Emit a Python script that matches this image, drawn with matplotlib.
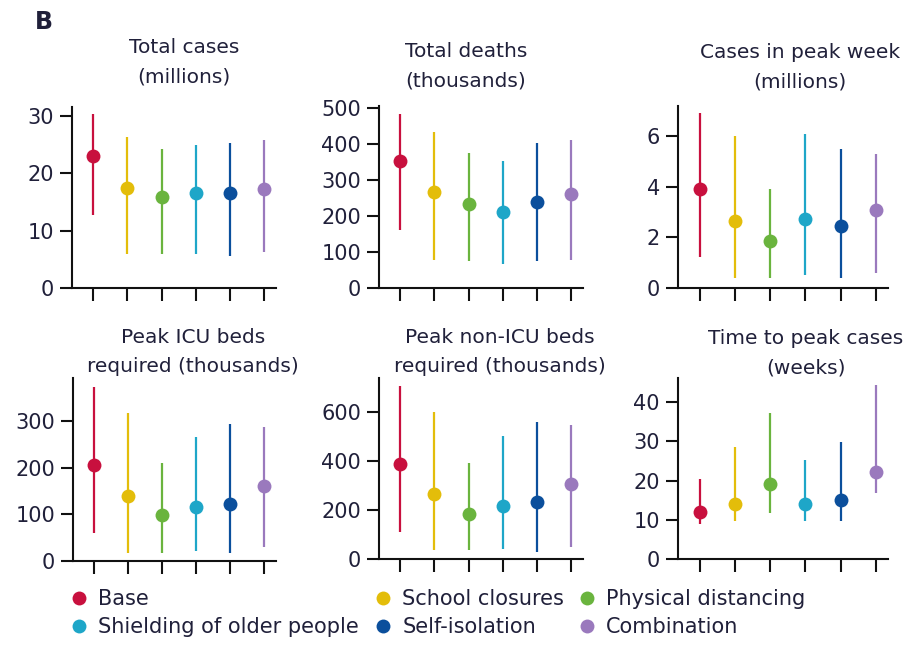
import matplotlib
matplotlib.use("Agg")
import matplotlib.pyplot as plt
from matplotlib.lines import Line2D

# scenarios, in plotting order
scenarios = ["Base", "School closures", "Physical distancing",
             "Shielding of older people", "Self-isolation", "Combination"]
colors = ["#c8103e", "#e3bd0a", "#6ab43e", "#1ea6c8", "#0b4f9c", "#9a79bd"]

# median, low, high
total_cases_mid = [23.0, 17.5, 15.9, 16.5, 16.5, 17.2]
total_cases_lo = [12.7, 5.9, 5.9, 5.9, 5.6, 6.3]
total_cases_hi = [30.4, 26.4, 24.2, 25.0, 25.3, 25.8]

total_deaths_mid = [353, 267, 234, 210, 240, 262]
total_deaths_lo = [162, 79, 75, 66, 75, 79]
total_deaths_hi = [482, 433, 375, 352, 401, 412]

peak_week_mid = [3.92, 2.67, 1.87, 2.73, 2.46, 3.10]
peak_week_lo = [1.21, 0.41, 0.41, 0.51, 0.41, 0.60]
peak_week_hi = [6.92, 6.02, 3.92, 6.08, 5.51, 5.31]

icu_mid = [205, 140, 98, 116, 123, 161]
icu_lo = [60, 18, 18, 21, 18, 29]
icu_hi = [372, 317, 209, 266, 294, 288]

nonicu_mid = [390, 266, 185, 219, 233, 308]
nonicu_lo = [109, 38, 38, 42, 29, 49]
nonicu_hi = [709, 600, 393, 505, 561, 550]

peak_time_mid = [12.1, 14.0, 19.2, 14.0, 15.0, 22.1]
peak_time_lo = [8.9, 9.6, 11.7, 9.6, 9.6, 16.9]
peak_time_hi = [20.3, 28.5, 37.3, 25.2, 29.8, 44.3]

TXT = "#20203a"
W, H = 910, 651

plt.rcParams['font.family'] = ['DejaVu Sans']

fig = plt.figure(figsize=(W / 100, H / 100), dpi=100)


def px_axes(left, right, top, bottom):
    return fig.add_axes((left / W, 1 - bottom / H, (right - left) / W, (bottom - top) / H))


panels = [
    # title, mid, lo, hi, ylim top, yticks, rect (l, r, t, b), title centre x, title y
    ("Total cases\n(millions)", total_cases_mid, total_cases_lo, total_cases_hi,
     31.6, [0, 10, 20, 30], (72, 276, 107, 288), 184, 62),
    ("Total deaths\n(thousands)", total_deaths_mid, total_deaths_lo, total_deaths_hi,
     505, [0, 100, 200, 300, 400, 500], (379, 583, 106, 288), 466, 66),
    ("Cases in peak week\n(millions)", peak_week_mid, peak_week_lo, peak_week_hi,
     7.2, [0, 2, 4, 6], (678, 888, 106, 288), 800, 67),
    ("Peak ICU beds\nrequired (thousands)", icu_mid, icu_lo, icu_hi,
     392, [0, 100, 200, 300], (73, 276, 378, 561), 193, 352),
    ("Peak non-ICU beds\nrequired (thousands)", nonicu_mid, nonicu_lo, nonicu_hi,
     741, [0, 200, 400, 600], (379, 583, 378, 559), 500, 352),
    ("Time to peak cases\n(weeks)", peak_time_mid, peak_time_lo, peak_time_hi,
     46.2, [0, 10, 20, 30, 40], (678, 888, 378, 559), 806, 353),
]

for title, mid, lo, hi, ytop, yticks, rect, tx, ty in panels:
    ax = px_axes(*rect)
    for i in range(len(scenarios)):
        ax.plot([i, i], [lo[i], hi[i]], color=colors[i], lw=1.6, solid_capstyle='butt')
        ax.plot(i, mid[i], 'o', ms=10, color=colors[i], mec='none')
    ax.set_xlim(-0.62, 5.35)
    ax.set_ylim(0, ytop)
    ax.set_xticks(range(len(scenarios)))
    ax.set_xticklabels([])
    ax.set_yticks(yticks)
    ax.set_yticklabels([str(t) for t in yticks], fontsize=15, color=TXT)
    for s in ["top", "right"]:
        ax.spines[s].set_visible(False)
    for s in ["left", "bottom"]:
        ax.spines[s].set_linewidth(1.5)
        ax.spines[s].set_color("#111111")
    ax.tick_params(axis='both', direction='out', length=9, width=1.5, color="#111111", pad=4)
    fig.text(tx / W, 1 - ty / H, title, ha='center', va='center', fontsize=14.5,
             color=TXT, linespacing=1.7)

fig.text(35 / W, 1 - 22 / H, "B", fontsize=17, fontweight='bold', color=TXT,
         ha='left', va='center')

# legend, laid out in three columns
columns = [(0, 3, 69), (1, 4, 373), (2, 5, 577)]
for a, b, x in columns:
    handles = [Line2D([], [], ls='none', marker='o', ms=10, color=colors[k], mec='none')
               for k in (a, b)]
    fig.legend(handles, [scenarios[a], scenarios[b]], loc='upper left',
               bbox_to_anchor=(x / W, 1 - 589 / H), frameon=False, fontsize=15,
               handletextpad=0.4, handlelength=1.0, labelspacing=0.38,
               borderpad=0, borderaxespad=0, labelcolor=TXT)

fig.savefig("out.png", dpi=100)
